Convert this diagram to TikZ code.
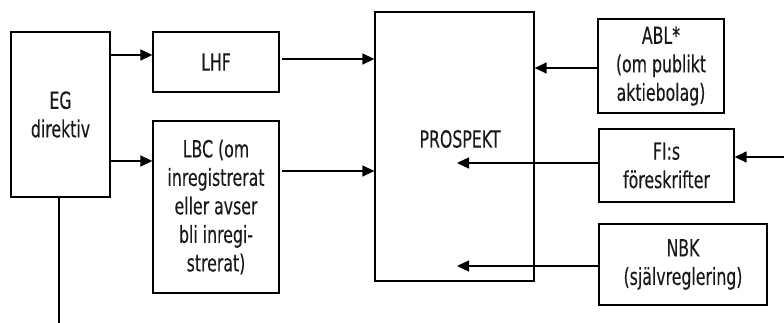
\documentclass[tikz,border=0pt]{standalone}
\usepackage{fontspec}
\setmainfont[FakeStretch=0.67,FakeBold=0.2]{DejaVu Sans}
\usetikzlibrary{arrows.meta}
\begin{document}
\begin{tikzpicture}[x=1pt,y=-1pt,
  txt/.style={font=\fontsize{23.5}{28.5}\selectfont,text=black!90},
  box/.style={txt,draw,line width=1.3pt,rectangle,inner sep=0pt,align=center},
  arr/.style={line width=1.4pt,-{Triangle[length=12pt,width=11pt]}},
  ln/.style={line width=1.4pt}]
\useasboundingbox (0,0) rectangle (784,323);
\node[box,minimum width=99pt,minimum height=165pt] (EG) at (60.5,114.5) {EG\\direktiv};
\node[box,minimum width=126pt,minimum height=60pt] (LHF) at (216,62) {LHF};
\node[box,minimum width=126pt,minimum height=172pt] (LBC) at (216,207) {LBC (om\\inregistrerat\\eller avser\\bli inregi-\\strerat)};
\node[box,minimum width=159pt,minimum height=269pt] (PROS) at (454.5,146.5) {};
\node[txt,inner sep=0pt] (PT) at (460,139) {PROSPEKT};
\node[box,minimum width=126pt,minimum height=94pt] (ABL) at (661,66) {ABL*\\(om publikt\\aktiebolag)};
\node[box,minimum width=135pt,minimum height=73pt] (FI) at (666.5,165.5) {FI:s\\föreskrifter};
\node[box,minimum width=168pt,minimum height=81pt] (NBK) at (683,264.5) {NBK\\(självreglering)};
\coordinate (fiend) at (457,163);
\coordinate (nbkend) at (457,266);
\coordinate (inR) at (784,157);
\coordinate (egdown) at (59,323);
\coordinate (y55) at (0,55);
\coordinate (y161) at (0,161);
\coordinate (y59) at (0,59);
\coordinate (y171) at (0,171);
\coordinate (y68) at (0,68);
\draw[arr] (EG.east |- y55) -- (LHF.west |- y55);
\draw[arr] (EG.east |- y161) -- (LBC.west |- y161);
\draw[arr] ([xshift=2pt]LHF.east |- y59) -- (PROS.west |- y59);
\draw[arr] ([xshift=2pt]LBC.east |- y171) -- (PROS.west |- y171);
\draw[arr] (ABL.west |- y68) -- (PROS.east |- y68);
\draw[arr] (FI.west |- fiend) -- (fiend);
\draw[arr] (NBK.west |- nbkend) -- (nbkend);
\draw[arr] (inR) -- (FI.east |- inR);
\draw[ln] (EG.south -| egdown) -- (egdown);
\end{tikzpicture}
\end{document}
